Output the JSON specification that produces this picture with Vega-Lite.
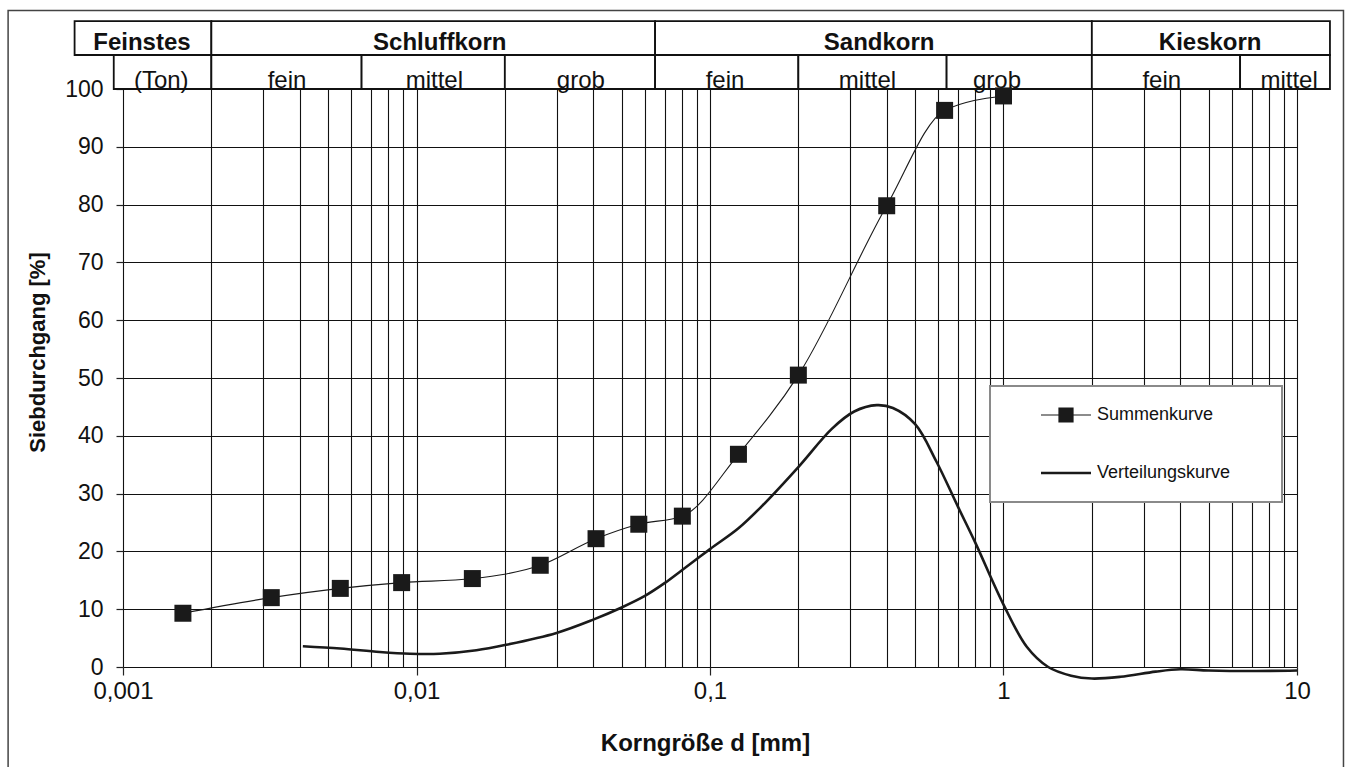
{
  "$schema": "https://vega.github.io/schema/vega-lite/v6.json",
  "width": 1174,
  "height": 578,
  "autosize": {"type": "none"},
  "padding": {"left": 123, "top": 89, "right": 63, "bottom": 100},
  "background": "white",
  "config": {
    "view": {"stroke": null},
    "font": "Liberation Sans",
    "axis": {
      "grid": true, "gridColor": "#111111", "gridWidth": 1.1, "gridOpacity": 1, "domain": false,
      "labelFont": "Liberation Sans", "titleFont": "Liberation Sans",
      "labelColor": "#111", "titleColor": "#111", "labelFontSize": 24
    }
  },
  "datasets": {
    "summe": [
      {"d": 0.0016, "p": 9.3, "serie": "Summenkurve"},
      {"d": 0.0032, "p": 12.0, "serie": "Summenkurve"},
      {"d": 0.0055, "p": 13.6, "serie": "Summenkurve"},
      {"d": 0.0089, "p": 14.6, "serie": "Summenkurve"},
      {"d": 0.0155, "p": 15.3, "serie": "Summenkurve"},
      {"d": 0.0264, "p": 17.6, "serie": "Summenkurve"},
      {"d": 0.0409, "p": 22.2, "serie": "Summenkurve"},
      {"d": 0.0572, "p": 24.7, "serie": "Summenkurve"},
      {"d": 0.0805, "p": 26.1, "serie": "Summenkurve"},
      {"d": 0.125, "p": 36.8, "serie": "Summenkurve"},
      {"d": 0.2, "p": 50.5, "serie": "Summenkurve"},
      {"d": 0.4, "p": 79.8, "serie": "Summenkurve"},
      {"d": 0.63, "p": 96.3, "serie": "Summenkurve"},
      {"d": 1.0, "p": 98.8, "serie": "Summenkurve"}
    ],
    "verteilung": [
      {"d": 0.0041, "p": 3.6, "serie": "Verteilungskurve"},
      {"d": 0.0055, "p": 3.2, "serie": "Verteilungskurve"},
      {"d": 0.0075, "p": 2.6, "serie": "Verteilungskurve"},
      {"d": 0.0095, "p": 2.3, "serie": "Verteilungskurve"},
      {"d": 0.012, "p": 2.3, "serie": "Verteilungskurve"},
      {"d": 0.016, "p": 2.9, "serie": "Verteilungskurve"},
      {"d": 0.02, "p": 3.8, "serie": "Verteilungskurve"},
      {"d": 0.03, "p": 5.9, "serie": "Verteilungskurve"},
      {"d": 0.04, "p": 8.2, "serie": "Verteilungskurve"},
      {"d": 0.05, "p": 10.3, "serie": "Verteilungskurve"},
      {"d": 0.06, "p": 12.3, "serie": "Verteilungskurve"},
      {"d": 0.07, "p": 14.5, "serie": "Verteilungskurve"},
      {"d": 0.08, "p": 16.7, "serie": "Verteilungskurve"},
      {"d": 0.1, "p": 20.4, "serie": "Verteilungskurve"},
      {"d": 0.125, "p": 24.0, "serie": "Verteilungskurve"},
      {"d": 0.15, "p": 27.8, "serie": "Verteilungskurve"},
      {"d": 0.2, "p": 34.6, "serie": "Verteilungskurve"},
      {"d": 0.26, "p": 41.2, "serie": "Verteilungskurve"},
      {"d": 0.31, "p": 44.2, "serie": "Verteilungskurve"},
      {"d": 0.37, "p": 45.3, "serie": "Verteilungskurve"},
      {"d": 0.42, "p": 44.8, "serie": "Verteilungskurve"},
      {"d": 0.5, "p": 42.0, "serie": "Verteilungskurve"},
      {"d": 0.59, "p": 35.6, "serie": "Verteilungskurve"},
      {"d": 0.7, "p": 27.7, "serie": "Verteilungskurve"},
      {"d": 0.8, "p": 21.6, "serie": "Verteilungskurve"},
      {"d": 1.0, "p": 10.8, "serie": "Verteilungskurve"},
      {"d": 1.2, "p": 3.5, "serie": "Verteilungskurve"},
      {"d": 1.42, "p": 0.0, "serie": "Verteilungskurve"},
      {"d": 1.7, "p": -1.5, "serie": "Verteilungskurve"},
      {"d": 2.0, "p": -2.0, "serie": "Verteilungskurve"},
      {"d": 2.5, "p": -1.7, "serie": "Verteilungskurve"},
      {"d": 3.3, "p": -0.8, "serie": "Verteilungskurve"},
      {"d": 4.0, "p": -0.4, "serie": "Verteilungskurve"},
      {"d": 5.0, "p": -0.6, "serie": "Verteilungskurve"},
      {"d": 7.0, "p": -0.7, "serie": "Verteilungskurve"},
      {"d": 10.0, "p": -0.6, "serie": "Verteilungskurve"}
    ],
    "klassen": [
      {"name": "Feinstes", "von": 0.000684, "bis": 0.002, "mitte": 0.00116, "ebene": 1},
      {"name": "Schluffkorn", "von": 0.002, "bis": 0.065, "mitte": 0.012, "ebene": 1},
      {"name": "Sandkorn", "von": 0.065, "bis": 2.0, "mitte": 0.377, "ebene": 1},
      {"name": "Kieskorn", "von": 2.0, "bis": 12.95, "mitte": 5.06, "ebene": 1},
      {"name": "(Ton)", "von": 0.00093, "bis": 0.002, "mitte": 0.00135, "ebene": 2},
      {"name": "fein", "von": 0.002, "bis": 0.0065, "mitte": 0.00362, "ebene": 2},
      {"name": "mittel", "von": 0.0065, "bis": 0.02, "mitte": 0.0115, "ebene": 2},
      {"name": "grob", "von": 0.02, "bis": 0.065, "mitte": 0.0363, "ebene": 2},
      {"name": "fein", "von": 0.065, "bis": 0.2, "mitte": 0.1125, "ebene": 2},
      {"name": "mittel", "von": 0.2, "bis": 0.64, "mitte": 0.344, "ebene": 2},
      {"name": "grob", "von": 0.64, "bis": 2.0, "mitte": 0.95, "ebene": 2},
      {"name": "fein", "von": 2.0, "bis": 6.4, "mitte": 3.46, "ebene": 2},
      {"name": "mittel", "von": 6.4, "bis": 12.95, "mitte": 9.4, "ebene": 2}
    ]
  },
  "layer": [
    {
      "data": {"values": [{"rahmen": "aussen"}]},
      "mark": {"type": "rect", "fill": null, "stroke": "#444", "strokeWidth": 1.5, "clip": false},
      "encoding": {
        "x": {"datum": 0.000406, "type": "quantitative", "scale": {"type": "log", "domain": [0.001, 10], "nice": false}},
        "x2": {"datum": 14.4},
        "y": {"datum": 113.6, "type": "quantitative", "scale": {"domain": [0, 100], "nice": false}},
        "y2": {"datum": -30}
      }
    },
    {
      "data": {"name": "klassen"},
      "transform": [{"filter": "datum.ebene === 1"}],
      "mark": {"type": "rect", "fill": "white", "stroke": "#111", "strokeWidth": 1.8},
      "encoding": {
        "x": {"field": "von", "type": "quantitative"},
        "x2": {"field": "bis"},
        "y": {"datum": 111.76, "type": "quantitative"},
        "y2": {"datum": 105.88}
      }
    },
    {
      "data": {"name": "klassen"},
      "transform": [{"filter": "datum.ebene === 2"}],
      "mark": {"type": "rect", "fill": "white", "stroke": "#111", "strokeWidth": 1.8},
      "encoding": {
        "x": {"field": "von", "type": "quantitative"},
        "x2": {"field": "bis"},
        "y": {"datum": 105.88, "type": "quantitative"},
        "y2": {"datum": 100}
      }
    },
    {
      "data": {"name": "klassen"},
      "transform": [{"filter": "datum.ebene === 1"}],
      "mark": {"type": "text", "font": "Liberation Sans", "fontWeight": "bold", "fontSize": 24, "baseline": "alphabetic", "align": "center", "color": "#111"},
      "encoding": {
        "x": {"field": "mitte", "type": "quantitative"},
        "y": {"datum": 106.7, "type": "quantitative"},
        "text": {"field": "name"}
      }
    },
    {
      "data": {"name": "klassen"},
      "transform": [{"filter": "datum.ebene === 2"}],
      "mark": {"type": "text", "font": "Liberation Sans", "fontSize": 24, "baseline": "alphabetic", "align": "center", "color": "#111"},
      "encoding": {
        "x": {"field": "mitte", "type": "quantitative"},
        "y": {"datum": 100.1, "type": "quantitative"},
        "text": {"field": "name"}
      }
    },
    {
      "data": {"name": "verteilung"},
      "mark": {"type": "line", "interpolate": "catmull-rom", "strokeWidth": 2.6},
      "encoding": {
        "x": {"field": "d", "type": "quantitative",
          "axis": {
            "grid": true,
            "values": [0.001,0.002,0.003,0.004,0.005,0.006,0.007,0.008,0.009,0.01,0.02,0.03,0.04,0.05,0.06,0.07,0.08,0.09,0.1,0.2,0.3,0.4,0.5,0.6,0.7,0.8,0.9,1,2,3,4,5,6,7,8,9,10],
            "labelExpr": "datum.value === 0.001 ? '0,001' : datum.value === 0.01 ? '0,01' : datum.value === 0.1 ? '0,1' : datum.value === 1 ? '1' : datum.value === 10 ? '10' : ''",
            "labelOverlap": false, "labelFlush": false, "labelBound": false,
            "tickSize": 8, "tickWidth": 1.2, "labelPadding": 4,
            "tickColor": {"condition": {"test": "indexof([0.001,0.01,0.1,1,10], datum.value) < 0", "value": "transparent"}, "value": "#222"},
            "title": "Korngröße d [mm]", "titleFontSize": 24, "titleFontWeight": "bold",
            "titlePadding": 28, "titleX": 582
          }
        },
        "y": {"field": "p", "type": "quantitative",
          "axis": {
            "grid": true,
            "values": [0,5,10,15,20,25,30,35,40,45,50,55,60,65,70,75,80,85,90,95,100],
            "labelExpr": "datum.value % 10 === 0 ? datum.label : ''",
            "labelOverlap": false, "tickSize": 7, "tickWidth": 1.2, "labelPadding": 13, "labelFontSize": 23,
            "tickColor": {"condition": {"test": "datum.value % 10 !== 0", "value": "transparent"}, "value": "#222"},
            "title": "Siebdurchgang [%]", "titleFontSize": 22, "titleFontWeight": "bold",
            "titleAngle": 270, "titleX": -86, "titleY": 263, "titleAlign": "center", "titleBaseline": "middle"
          }
        },
        "color": {"field": "serie", "type": "nominal",
          "scale": {"domain": ["Summenkurve", "Verteilungskurve"], "range": ["#1a1a1a", "#1a1a1a"]},
          "legend": {
            "title": null, "orient": "none", "legendX": 867, "legendY": 297,
            "padding": 20, "fillColor": "white", "strokeColor": "#8a8a8a",
            "symbolSize": 2500, "rowPadding": 39, "symbolOffset": 47, "labelOffset": 22,
            "labelFont": "Liberation Sans", "labelFontSize": 18, "labelColor": "#111", "labelLimit": 400,
            "labelExpr": "datum.label + '\u2800\u00a0\u2800'",
            "encode": {
              "legend": {"update": {"strokeWidth": {"value": 2}}},
              "symbols": {"update": {
                "shape": {"signal": "datum.value === 'Summenkurve' ? 'M-1,0H1M-0.28,-0.28H0.28V0.28H-0.28Z' : 'stroke'"},
                "fill": {"signal": "datum.value === 'Summenkurve' ? '#1a1a1a' : 'transparent'"},
                "stroke": {"value": "#1a1a1a"},
                "strokeWidth": {"signal": "datum.value === 'Summenkurve' ? 1.2 : 2.6"},
                "size": {"value": 2500},
                "opacity": {"value": 1}
              }}
            }
          }
        }
      }
    },
    {
      "data": {"name": "summe"},
      "mark": {"type": "line", "interpolate": "monotone", "strokeWidth": 1.1},
      "encoding": {
        "x": {"field": "d", "type": "quantitative"},
        "y": {"field": "p", "type": "quantitative"},
        "color": {"field": "serie", "type": "nominal"}
      }
    },
    {
      "data": {"name": "summe"},
      "mark": {"type": "point", "shape": "square", "filled": true, "size": 289, "opacity": 1},
      "encoding": {
        "x": {"field": "d", "type": "quantitative"},
        "y": {"field": "p", "type": "quantitative"},
        "color": {"field": "serie", "type": "nominal"}
      }
    }
  ]
}
